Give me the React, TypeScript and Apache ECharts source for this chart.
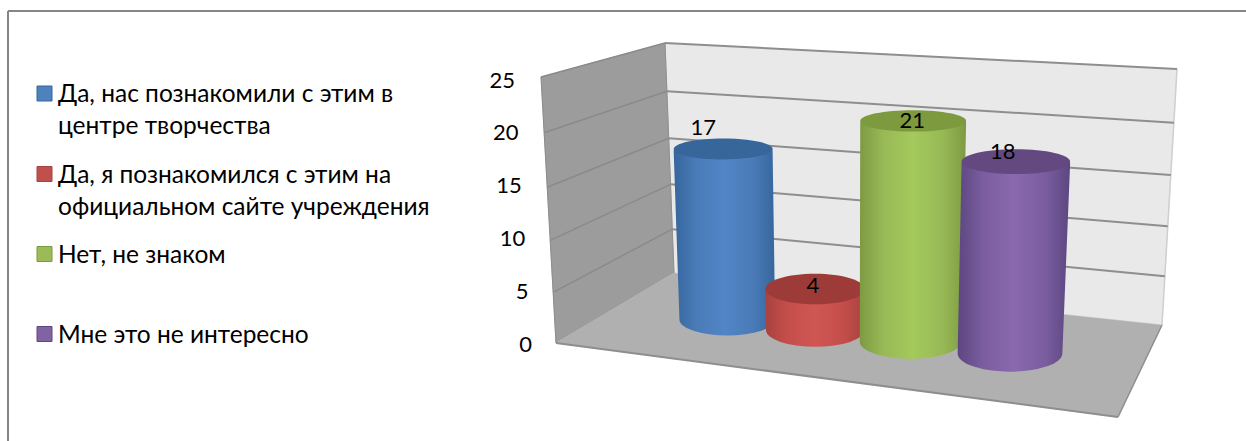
import React, { useEffect, useRef } from "react";
import * as echarts from "echarts";

const categories = [
  "Да, нас познакомили с этим\nв центре творчества",
  "Да, я познакомился с этим на\nофициальном сайте учреждения",
  "Нет, не знаком",
  "Мне это не интересно",
];
const legendLines = [
  ["Да, нас познакомили с этим в", "центре творчества"],
  ["Да, я познакомился с этим на", "официальном сайте учреждения"],
  ["Нет, не знаком"],
  ["Мне это не интересно"],
];
const values = [17, 4, 21, 18];
const yTicks = [0, 5, 10, 15, 20, 25];
const swatchColors = ["#4f81bd", "#c0504d", "#9bbb59", "#8064a2"];
const sideColors = [
  ["#36669c", "#4a7bb8", "#5285c6"],
  ["#a8423f", "#c44e4b", "#d05653"],
  ["#7d9a42", "#98b956", "#a4c95c"],
  ["#5c4680", "#7a5d9f", "#8a69ae"],
];
const capColors = ["#37669b", "#9d3b39", "#7e9a3f", "#63497f"];

const FONT = "Lato";
const LEGEND_SIZE = 24.5;
const NUMBER_SIZE = 22;
const GRID = { left: 536, top: 79, width: 600, height: 264 };

type P = [number, number];
// Corners of the drawn box: floor front-left, front-right, back-left, back-right, and their lift at full height.
const FL: P = [556, 343], FR: P = [1118, 417], BL: P = [674, 273], BR: P = [1162, 325];
const LFL: P = [-15, -266], LFR: P = [15, -296], LBL: P = [-9, -230], LBR: P = [15, -256];
const BAND_NUDGE = [0, -0.012, -0.01, 0];
const LABEL_SHIFT: P[] = [[-20, -24], [-2, -7], [-1, -3], [-13, -13]];

const warp = (v: number) => v * (1 - 0.06 * (1 - v));
function project(u: number, w: number, v: number): P {
  const mix = (a: P, b: P, c: P, d: P, i: number) =>
    (1 - u) * (1 - w) * a[i] + u * (1 - w) * b[i] + (1 - u) * w * c[i] + u * w * d[i];
  const h = warp(v);
  return [
    mix(FL, FR, BL, BR, 0) + h * mix(LFL, LFR, LBL, LBR, 0),
    mix(FL, FR, BL, BR, 1) + h * mix(LFL, LFR, LBL, LBR, 1),
  ];
}
const fraction = (y: number) => (GRID.top + GRID.height - y) / GRID.height;

function wallRender(_p: any, api: any) {
  const v = fraction(api.coord([0, api.value(0)])[1]);
  const children: any[] = [];
  const poly = (pts: P[], fill: string) => ({ type: "polygon", shape: { points: pts }, style: { fill, stroke: fill, lineWidth: 0.5 } });
  const line = (a: P, b: P, stroke: string, w: number) => ({
    type: "line",
    shape: { x1: a[0], y1: a[1], x2: b[0], y2: b[1] },
    style: { stroke, lineWidth: w },
  });
  if (api.value(0) === 0) {
    children.push(poly([project(0, 1, 0), project(1, 1, 0), project(1, 1, 1), project(0, 1, 1)], "#e9e9e9"));
    children.push(poly([project(0, 0, 0), project(0, 1, 0), project(0, 1, 1), project(0, 0, 1)], "#9c9c9c"));
    children.push(poly([project(0, 0, 0), project(1, 0, 0), project(1, 1, 0), project(0, 1, 0)], "#b0b0b0"));
    children.push(line(project(0, 0, 0), project(1, 0, 0), "#8e8e8e", 2));
    children.push(line(project(1, 0, 0), project(1, 1, 0), "#8e8e8e", 1.5));
    children.push(line(project(1, 1, 0), project(1, 1, 1), "#cfcfcf", 1.5));
    children.push(line(project(0, 0, 0), project(0, 0, 1), "#8c8c8c", 1));
    children.push(line(project(0, 1, 0), project(0, 1, 1), "#8f8f8f", 1));
  } else {
    children.push(line(project(0, 0, v), project(0, 1, v), "#8a8a8a", 1.5));
    children.push(line(project(0, 1, v), project(1, 1, v), "#8e8e8e", 2));
  }
  return { type: "group", children };
}

function cylinderRender(p: any, api: any) {
  const i = p.dataIndex;
  const top = api.coord([i, api.value(1)]);
  const bandW = api.size([1, 0])[0];
  const ux = (top[0] - GRID.left) / GRID.width;
  const u = 0.21 + (ux - 0.125) * 0.72 + BAND_NUDGE[i];
  const v = fraction(top[1]);
  const du = (bandW / GRID.width) * (0.352 + 0.064 * u);
  const w = 0.52;
  const dw = 0.21;
  const ellipse = (h: number) => {
    const c = project(u, w, h);
    const rx = (project(u + du, w, h)[0] - project(u - du, w, h)[0]) / 2;
    const ry = Math.abs(project(u, w + dw, h)[1] - project(u, w - dw, h)[1]) / 2;
    return { c, rx, ry };
  };
  const t = ellipse(v);
  const b = ellipse(0);
  const pathData =
    `M ${t.c[0] - t.rx} ${t.c[1]} L ${b.c[0] - b.rx} ${b.c[1]} ` +
    `A ${b.rx} ${b.ry} 0 0 0 ${b.c[0] + b.rx} ${b.c[1]} ` +
    `L ${t.c[0] + t.rx} ${t.c[1]} ` +
    `A ${t.rx} ${t.ry} 0 0 0 ${t.c[0] - t.rx} ${t.c[1]} Z`;
  const [edge, mid, light] = sideColors[i];
  return {
    type: "group",
    children: [
      {
        type: "path",
        shape: { pathData },
        style: {
          fill: new echarts.graphic.LinearGradient(0, 0, 1, 0, [
            { offset: 0, color: edge },
            { offset: 0.22, color: mid },
            { offset: 0.5, color: light },
            { offset: 0.78, color: mid },
            { offset: 1, color: edge },
          ]),
        },
      },
      {
        type: "ellipse",
        shape: { cx: t.c[0], cy: t.c[1] - 2, rx: t.rx, ry: t.ry },
        style: { fill: capColors[i] },
      },
      {
        type: "text",
        style: {
          text: String(api.value(1)),
          x: t.c[0] + LABEL_SHIFT[i][0],
          y: t.c[1] + LABEL_SHIFT[i][1],
          fill: "#000",
          font: `${NUMBER_SIZE}px "${FONT}"`,
          align: "center",
          verticalAlign: "middle",
        },
      },
    ],
  };
}

function legendGraphics() {
  const frame = (x1: number, y1: number, x2: number, y2: number) => ({
    type: "line",
    shape: { x1, y1, x2, y2 },
    style: { stroke: "#868686", lineWidth: 2 },
  });
  const out: any[] = [frame(8, 11, 1246, 11), frame(8, 11, 8, 441)];
  const rowTop = [93.5, 174, 254, 334];
  legendLines.forEach((lines, i) => {
    out.push({
      type: "rect",
      shape: { x: 37, y: rowTop[i] - 7.5, width: 15, height: 15 },
      style: { fill: swatchColors[i], stroke: sideColors[i][0], lineWidth: 1 },
    });
    lines.forEach((text, k) => {
      out.push({
        type: "text",
        x: 58,
        y: rowTop[i] - 1 + k * 32,
        style: { text, fill: "#000", font: `${LEGEND_SIZE}px "${FONT}"`, verticalAlign: "middle", align: "left" },
      });
    });
  });
  return out;
}

const tickRich: Record<string, any> = {};
yTicks.forEach((t) => {
  tickRich[`t${t}`] = {
    fontSize: NUMBER_SIZE,
    fontFamily: FONT,
    color: "#000",
    padding: [0, (t / 25) * 17, 0, 0],
  };
});

export default function App() {
  const ref = useRef<HTMLDivElement>(null);
  useEffect(() => {
    document.body.style.margin = "0";
    const chart = echarts.init(ref.current!, null, { renderer: "svg" });
    chart.setOption({
      animation: false,
      backgroundColor: "#fff",
      graphic: legendGraphics(),
      grid: GRID,
      xAxis: { type: "category", data: categories, show: false },
      yAxis: {
        type: "value",
        min: 0,
        max: 25,
        interval: 5,
        axisLine: { show: false },
        axisTick: { show: false },
        splitLine: { show: false },
        axisLabel: {
          margin: 4,
          formatter: (val: number) => `{t${val}|${val}}`,
          rich: tickRich,
        },
      },
      series: [
        {
          type: "custom",
          coordinateSystem: "cartesian2d",
          clip: false,
          silent: true,
          renderItem: wallRender,
          encode: { x: 1, y: 0 },
          data: yTicks.map((t) => [t, 0]),
          z: 1,
        },
        {
          type: "custom",
          coordinateSystem: "cartesian2d",
          clip: false,
          silent: true,
          renderItem: cylinderRender,
          encode: { x: 0, y: 1 },
          data: values.map((val, i) => [i, val]),
          z: 2,
        },
      ],
    });
    return () => chart.dispose();
  }, []);
  return <div ref={ref} style={{ width: 1246, height: 441 }} />;
}
